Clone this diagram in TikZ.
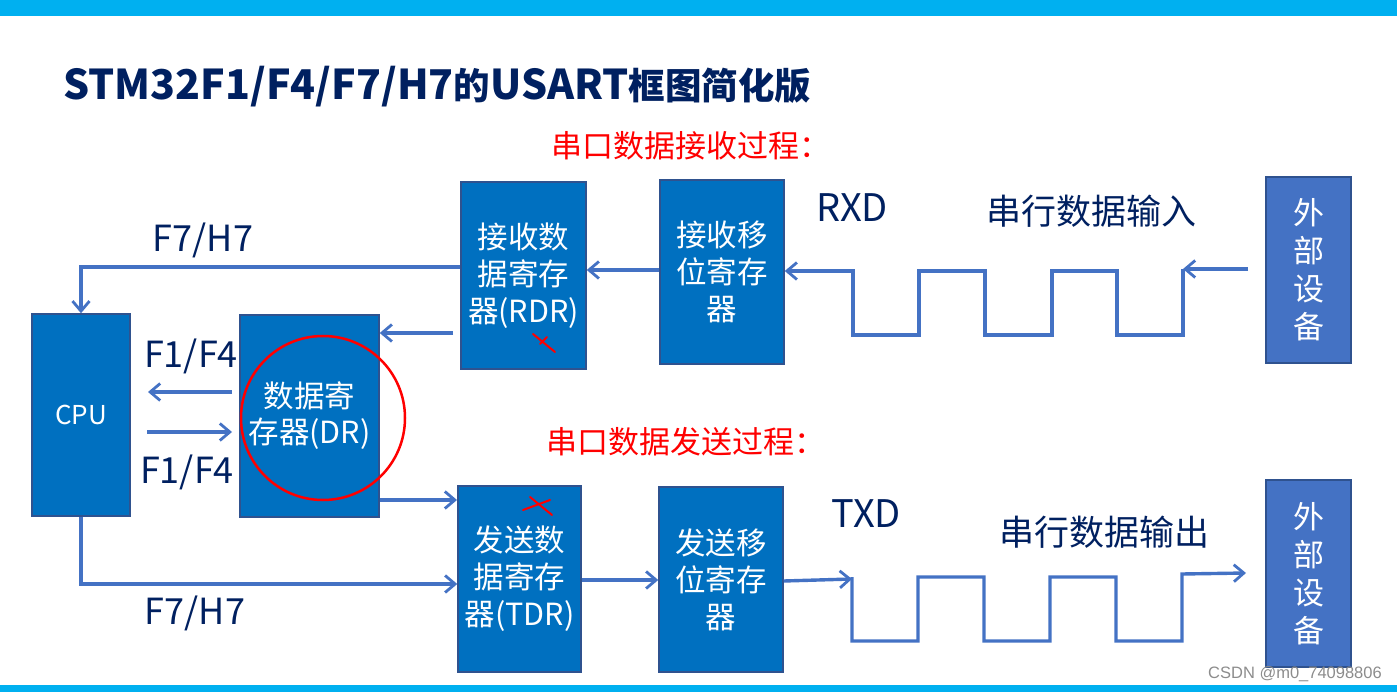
\documentclass[tikz,border=0pt]{standalone}
\usepackage{fontspec}
\setmainfont{Noto Sans CJK SC}
\newfontfamily\wmfont{Liberation Sans}
\usetikzlibrary{arrows.meta}
\definecolor{boxblue}{HTML}{0070C0}
\definecolor{boxedge}{HTML}{2F528F}
\definecolor{extblue}{HTML}{4472C4}
\definecolor{linkblue}{HTML}{4472C4}
\definecolor{navy}{HTML}{002060}
\definecolor{bandblue}{HTML}{00B0F0}
\definecolor{redtxt}{HTML}{FF0000}
\newcommand{\latsz}{\fontsize{41}{46}\selectfont}
\newcommand{\cjksz}{\fontsize{36.5}{46}\selectfont}
\begin{document}
\begin{tikzpicture}[x=1pt,y=-1pt,
  blk/.style={draw=boxedge,line width=1.5pt,fill=boxblue,text=white,align=center,inner sep=0pt,font=\fontsize{30.5}{37}\selectfont},
  ext/.style={blk,fill=extblue,font=\fontsize{31}{38}\selectfont},
  lnk/.style={draw=linkblue,line width=3.4pt},
  arr/.style={lnk,-{Straight Barb[length=10pt,width=17pt,line width=2.8pt]}},
  lbl/.style={text=navy,font=\fontsize{36}{40}\selectfont,inner sep=0pt},
  redlbl/.style={text=redtxt,font=\fontsize{31}{36}\selectfont,inner sep=0pt,anchor=west},
  wave/.style={lnk,line join=miter},
  cross/.style={draw=redtxt,line width=2pt,line cap=round}
]
\useasboundingbox (0,0) rectangle (1397,692);
\fill[bandblue] (0,0) rectangle (1397,16);
\fill[bandblue] (0,685) rectangle (1397,692);

% title
\node[anchor=base west,inner sep=0pt,text=navy,font=\bfseries] (title) at (63,100) {\latsz STM32F1/F4/F7/H7\cjksz 的\latsz USART\cjksz 框图简化版};

% red process labels
\node[redlbl] (rxproc) at (551,146) {串口数据接收过程：};
\node[redlbl] (txproc) at (546,442) {串口数据发送过程：};

% blocks
\node[blk,minimum width=98pt,minimum height=202pt,font=\fontsize{26}{30}\selectfont] (cpu) at (81,415) {CPU};
\node[blk,minimum width=139pt,minimum height=202pt,font=\fontsize{30.5}{36}\selectfont] (dr) at (309.5,416) {数据寄\\存器(DR)};
\node[blk,minimum width=125pt,minimum height=187pt] (rdr) at (523.5,275.5) {接收数\\据寄存\\器(RDR)};
\node[blk,minimum width=124pt,minimum height=184pt] (rsr) at (722,272) {接收移\\位寄存\\器};
\node[blk,minimum width=123pt,minimum height=186pt] (tdr) at (519.5,579) {发送数\\据寄存\\器(TDR)};
\node[blk,minimum width=124pt,minimum height=185pt] (tsr) at (721,579.5) {发送移\\位寄存\\器};
\node[ext,minimum width=85pt,minimum height=186pt] (ext1) at (1308.5,270) {外\\部\\设\\备};
\node[ext,minimum width=85pt,minimum height=187pt] (ext2) at (1308.5,573.5) {外\\部\\设\\备};

% red circle and crosses
\draw[redtxt,line width=2.5pt] (323,418) circle (82pt);
\draw[cross] (533,334) -- (555,352);
\draw[cross] (540,344) -- (547,337);
\draw[cross] (523,510) -- (550,500);
\draw[cross] (530,497) -- (552,515);

% labels
\node[lbl] (lf7a) at (203,240) {F7/H7};
\node[lbl] (lf1a) at (191,356) {F1/F4};
\node[lbl] (lf1b) at (187,472) {F1/F4};
\node[lbl] (lf7b) at (195,613) {F7/H7};
\node[lbl,font=\fontsize{38}{42}\selectfont] (rxd) at (852,208) {RXD};
\node[lbl,font=\fontsize{38}{42}\selectfont] (txd) at (866,514) {TXD};
\node[lbl,font=\fontsize{35}{40}\selectfont] (sin) at (1091,211) {串行数据输入};
\node[lbl,font=\fontsize{35}{40}\selectfont] (sout) at (1104,532) {串行数据输出};

% helper coordinates
\coordinate (a1) at (453,333);
\coordinate (a2s) at (232,392);
\coordinate (a2e) at (148,392);
\coordinate (a3s) at (147,432);
\coordinate (a3e) at (232,432);
\coordinate (a4e) at (457,500);
\coordinate (w1s) at (1248,269);
\coordinate (w1e) at (1183,269);
\coordinate (w2e) at (852,579);
\coordinate (w3e) at (1246,573);

% connectors
\draw[arr] (rdr.west |- 0,267) -| (cpu.north);
\draw[arr] (a1) -- (dr.east |- a1);
\draw[arr] (a2s) -- (a2e);
\draw[arr] (a3s) -- (a3e);
\draw[arr] (dr.east |- 0,500) -- (a4e);
\draw[arr] (cpu.south) -- (81,584) -- (tdr.west |- 0,584);
\draw[arr] (tdr.east |- 0,580) -- (tsr.west |- 0,580);
\draw[arr] (rsr.west |- 0,270) -- (rdr.east |- 0,270);

% receive waveform
\draw[arr] (w1s) -- (w1e);
\draw[wave,-{Straight Barb[length=10pt,width=17pt,line width=2.8pt]}] (1183,269) -- (1183,335) -- (1117,335) -- (1117,271) -- (1052,271) -- (1052,335) -- (985,335) -- (985,271) -- (919,271) -- (919,335) -- (853,335) -- (853,271) -- (rsr.east |- 0,271);

% transmit waveform
\draw[arr] (tsr.east |- 0,581) -- (w2e);
\draw[wave,-{Straight Barb[length=10pt,width=17pt,line width=2.8pt]}] (852,577) -- (852,641) -- (918,641) -- (918,577) -- (984,577) -- (984,641) -- (1050,641) -- (1050,577) -- (1116,577) -- (1116,641) -- (1182,641) -- (1182,574) -- (w3e);

% watermark
\node[text=black!45,font=\wmfont\fontsize{16.5}{19}\selectfont,inner sep=0pt] (wm) at (1295,674) {CSDN @m0\_74098806};
\end{tikzpicture}
\end{document}
